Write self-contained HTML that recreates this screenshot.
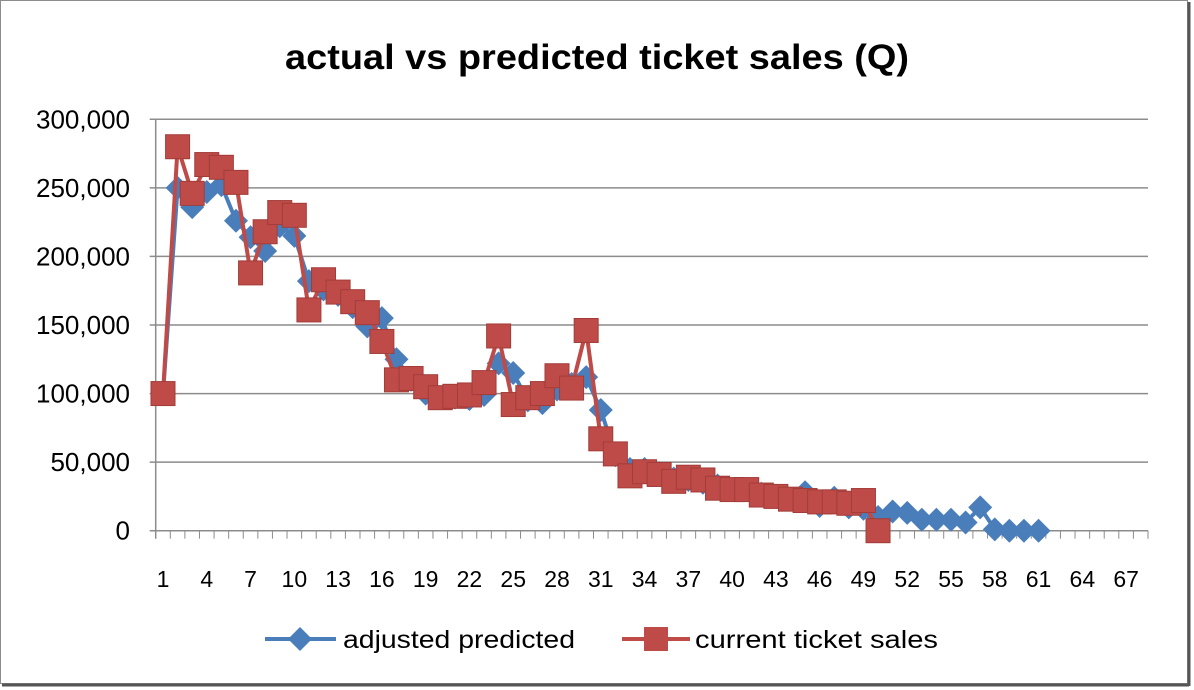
<!DOCTYPE html>
<html><head><meta charset="utf-8"><style>
html,body{margin:0;padding:0;background:#fff}
svg{display:block}
text{font-family:"Liberation Sans",sans-serif}
</style></head><body>
<svg id="c" width="1194" height="690" xmlns="http://www.w3.org/2000/svg">
<rect x="0.5" y="0.5" width="1187" height="683" fill="#fff" stroke="#8c8c8c"/>
<line x1="1189" y1="2" x2="1189" y2="686" stroke="#555" stroke-width="3"/>
<line x1="2" y1="685" x2="1189" y2="685" stroke="#555" stroke-width="3"/>
<text x="597" y="69" text-anchor="middle" font-size="35" font-weight="bold" fill="#000" textLength="624" lengthAdjust="spacingAndGlyphs">actual  vs predicted ticket sales (Q)</text>
<g id="g"></g>
</svg>
<script>
var L=155.7,R=1148,T=119.3,B=530.7,N=68,w=(R-L)/N;
var g=document.getElementById('g'),s='';
function Y(v){return B-(v/300000)*(B-T);}
function X(i){return L+(i-0.5)*w;}
for(var k=0;k<=6;k++){var y=Y(k*50000);s+='<line x1="'+(L-6)+'" y1="'+y+'" x2="'+R+'" y2="'+y+'" stroke="#8c8c8c" stroke-width="1.5"/>';
s+='<text x="130" y="'+(y+9)+'" text-anchor="end" font-size="26" fill="#000">'+(k==0?'0':(k*50)+',000')+'</text>';}
s+='<line x1="'+L+'" y1="'+T+'" x2="'+L+'" y2="'+(B+8)+'" stroke="#8c8c8c" stroke-width="1.5"/>';
for(var i=1;i<=N;i++){var x=L+i*w;s+='<line x1="'+x+'" y1="'+B+'" x2="'+x+'" y2="'+(B+8)+'" stroke="#8c8c8c" stroke-width="1"/>';}
for(var i=1;i<=67;i+=3){s+='<text x="'+X(i)+'" y="587" text-anchor="middle" font-size="23" fill="#000">'+i+'</text>';}
var blue=[100,250,236,247,252,226,214,204,222,215,182,176,172,163,149,155,125,110,100,97,97,96,99,122,115,95,93,103,107,112,88,55,45,45,42,38,37,35,33,30,30,27,25,23,28,18,24,17,16,10,14,13,8,8,8,6,17,1,0,0,0];
var red=[100,280,246,267,265,254,188,218,232,230,161,183,174,167,159,138,110,111,105,97,98,99,108,142,92,97,100,113,104,146,67,56,40,43,41,36,39,37,31,30,30,26,25,23,22,21,21,20,22,0];
function pts(a){return a.map(function(v,i){return X(i+1).toFixed(1)+','+Y(v*1000).toFixed(1)}).join(' ');}
s+='<polyline points="'+pts(blue)+'" fill="none" stroke="#4a7ebb" stroke-width="4" stroke-linejoin="round"/>';
blue.forEach(function(v,i){var x=X(i+1),y=Y(v*1000);s+='<polygon points="'+x+','+(y-12)+' '+(x+12)+','+y+' '+x+','+(y+12)+' '+(x-12)+','+y+'" fill="#4a7ebb"/>';});
s+='<polyline points="'+pts(red)+'" fill="none" stroke="#be4b48" stroke-width="4" stroke-linejoin="round"/>';
red.forEach(function(v,i){var x=X(i+1),y=Y(v*1000);s+='<rect x="'+(x-12)+'" y="'+(y-12)+'" width="24" height="24" fill="#be4b48" stroke="#a33c39" stroke-width="1"/>';});
s+='<line x1="265" y1="639" x2="336" y2="639" stroke="#4a7ebb" stroke-width="4"/><polygon points="300,627 312,639 300,651 288,639" fill="#4a7ebb"/>';
s+='<text x="343" y="648" font-size="25" fill="#000" textLength="232" lengthAdjust="spacingAndGlyphs">adjusted predicted</text>';
s+='<line x1="622" y1="639" x2="690" y2="639" stroke="#be4b48" stroke-width="4"/><rect x="644" y="627" width="24" height="24" fill="#be4b48"/>';
s+='<text x="695" y="648" font-size="25" fill="#000" textLength="243" lengthAdjust="spacingAndGlyphs">current ticket sales</text>';
g.innerHTML=s;
</script>
</body></html>
